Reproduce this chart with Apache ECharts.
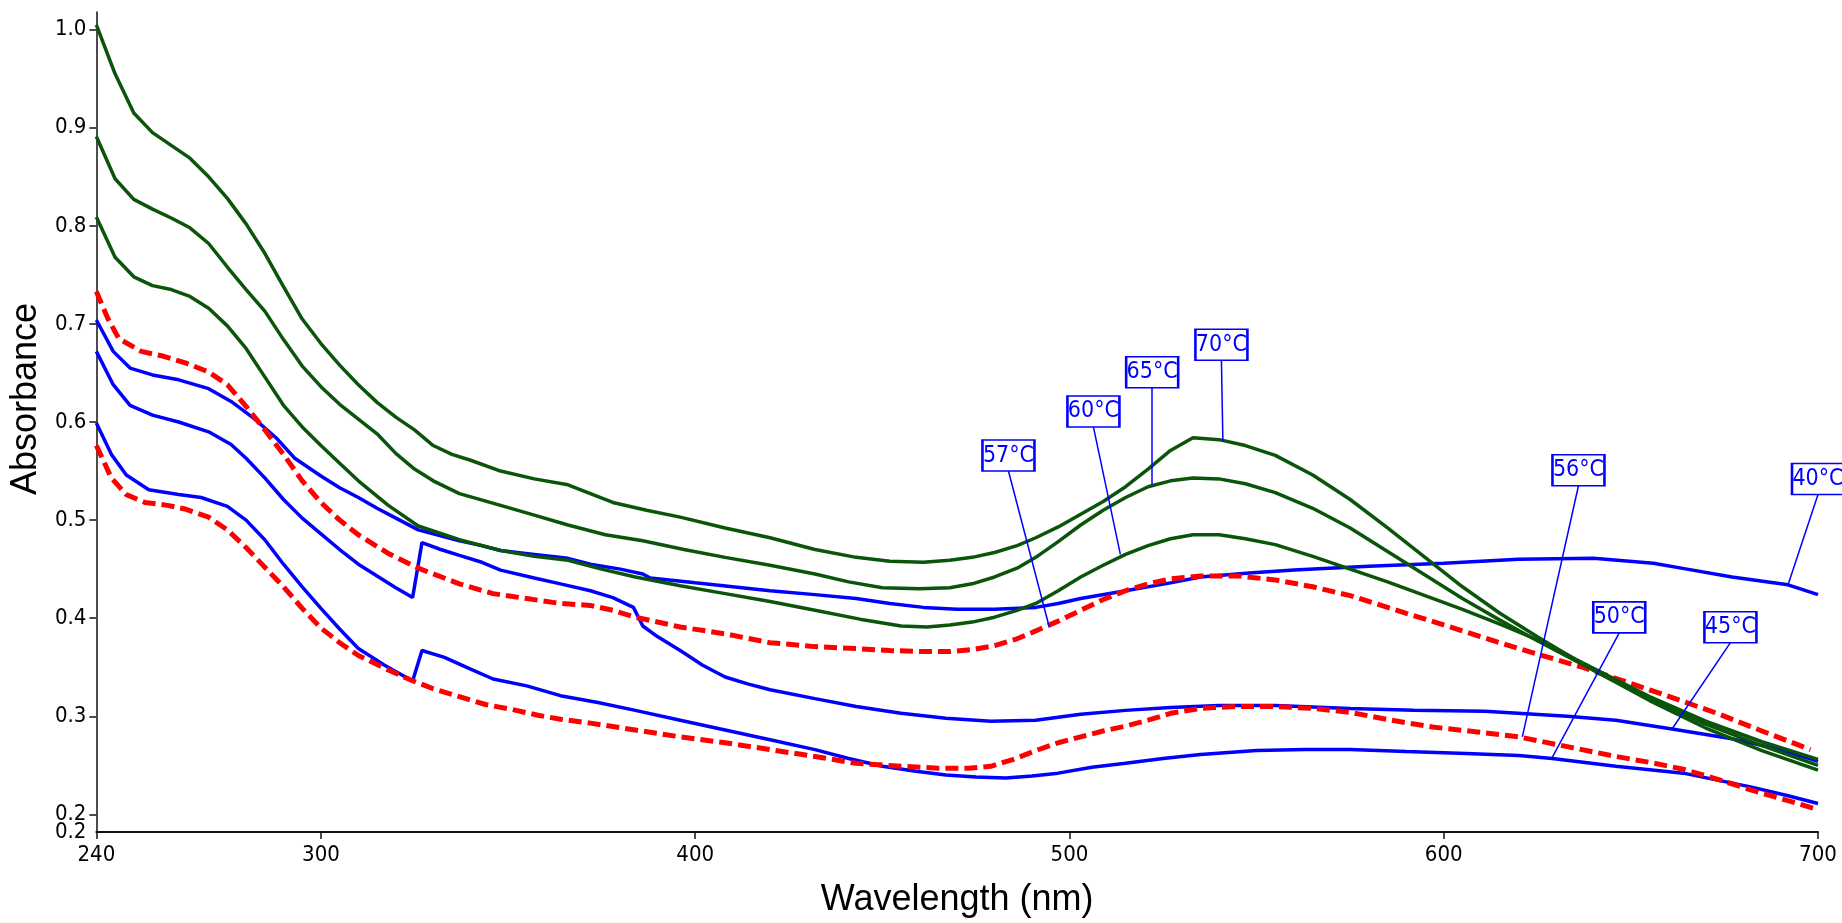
<!DOCTYPE html>
<html>
<head>
<meta charset="utf-8">
<title>Absorbance vs wavelength</title>
<script src="https://cdn.jsdelivr.net/npm/echarts@6/dist/echarts.min.js"></script>
<style>
  html, body { margin: 0; padding: 0; background: #fff; }
  #chart { width: 1842px; height: 923px; }
</style>
</head>
<body>
<div id="chart"></div>
<script>
// spectra: [wavelength nm, absorbance]
const abs40 = [[240,0.704],[244.5,0.672],[249,0.655],[255,0.648],[262,0.643],[270,0.634],[276,0.621],[282,0.604],[288,0.584],[293,0.563],[300,0.545],[305,0.533],[310,0.523],[315,0.512],[319,0.504],[326,0.490],[332,0.484],[337,0.479],[343,0.474],[348,0.469],[357,0.465],[366,0.461],[372,0.455],[380,0.450],[386,0.445],[388,0.441],[400,0.436],[410,0.432],[420,0.428],[432,0.424],[443,0.420],[452,0.415],[461,0.411],[470,0.409],[480,0.409],[491,0.411],[497,0.415],[503,0.420],[515,0.428],[527,0.436],[535,0.442],[548,0.446],[560,0.449],[580,0.453],[600,0.456],[620,0.460],[640,0.461],[656,0.456],[665,0.450],[677,0.442],[692,0.434],[700,0.424]];
const abs45 = [[240,0.672],[244.5,0.638],[249,0.617],[255,0.607],[262,0.600],[270,0.590],[276,0.577],[280,0.563],[285,0.543],[290,0.521],[295,0.502],[300,0.486],[305,0.470],[310,0.455],[315,0.443],[320,0.431],[324.5,0.421],[327,0.477],[332,0.470],[337,0.464],[343,0.457],[348,0.449],[357,0.441],[364,0.435],[372,0.428],[378,0.421],[383.5,0.411],[386,0.392],[390,0.381],[396,0.367],[402,0.352],[408,0.340],[414,0.333],[420,0.327],[432,0.318],[443,0.310],[455,0.303],[467,0.298],[479,0.295],[491,0.296],[503,0.302],[515,0.306],[527,0.309],[540,0.311],[555,0.311],[575,0.308],[592,0.306],[611,0.305],[633,0.300],[646,0.296],[661,0.287],[677,0.277],[690,0.266],[700,0.254]];
const abs50 = [[240,0.599],[244,0.567],[248,0.546],[254,0.531],[262,0.526],[268,0.523],[275,0.514],[280,0.500],[285,0.480],[290,0.455],[295,0.432],[300,0.410],[305,0.389],[310,0.369],[317,0.352],[324.5,0.336],[327,0.367],[333,0.360],[340,0.348],[346,0.338],[355,0.331],[364,0.321],[374,0.314],[384,0.306],[396,0.296],[408,0.286],[420,0.276],[432,0.266],[441,0.257],[450,0.249],[459,0.244],[467,0.240],[475,0.238],[483,0.237],[490,0.239],[497,0.242],[506,0.248],[515,0.252],[525,0.257],[535,0.261],[550,0.265],[563,0.266],[575,0.266],[590,0.264],[606,0.262],[620,0.260],[629,0.257],[646,0.249],[664,0.242],[682,0.228],[692,0.219],[700,0.211]];
const abs56 = [[240,0.576],[244,0.543],[248,0.526],[253,0.518],[259,0.515],[264,0.511],[270,0.503],[275,0.490],[280,0.472],[285,0.452],[290,0.432],[295,0.410],[300,0.390],[305,0.375],[310,0.362],[317,0.349],[324,0.337],[330,0.328],[337,0.320],[344,0.312],[351,0.307],[358,0.301],[364,0.297],[372,0.293],[384,0.286],[396,0.279],[408,0.273],[420,0.266],[432,0.259],[443,0.252],[455,0.249],[465,0.247],[473,0.247],[479,0.249],[485,0.256],[491,0.265],[497,0.273],[503,0.279],[509,0.285],[515,0.290],[521,0.296],[527,0.303],[535,0.308],[545,0.310],[555,0.310],[565,0.308],[575,0.304],[586,0.296],[597,0.289],[609,0.284],[620,0.279],[633,0.269],[646,0.259],[655,0.253],[664,0.246],[673,0.236],[682,0.225],[691,0.215],[699,0.206]];
const abs57 = [[240,0.733],[243,0.706],[246,0.685],[252,0.672],[258,0.667],[264,0.660],[270,0.651],[275,0.638],[280,0.616],[285,0.592],[290,0.567],[295,0.540],[300,0.518],[305,0.500],[310,0.485],[318,0.466],[326,0.451],[337,0.435],[346,0.425],[355,0.420],[364,0.415],[372,0.413],[378,0.408],[384,0.401],[396,0.391],[408,0.384],[420,0.375],[432,0.371],[443,0.369],[452,0.367],[461,0.366],[468,0.366],[474,0.368],[480,0.372],[486,0.379],[491,0.387],[497,0.397],[503,0.408],[509,0.419],[515,0.428],[521,0.435],[527,0.440],[535,0.443],[545,0.443],[555,0.439],[565,0.432],[575,0.423],[590,0.405],[601,0.392],[610,0.381],[620,0.369],[637,0.350],[655,0.327],[673,0.303],[685,0.285],[698,0.266]];
const abs60 = [[240,0.809],[245,0.768],[250,0.748],[255,0.739],[260,0.735],[265,0.728],[270,0.716],[275,0.698],[280,0.675],[285,0.646],[290,0.617],[295,0.595],[300,0.576],[305,0.558],[310,0.540],[318,0.515],[326,0.494],[337,0.480],[348,0.469],[357,0.463],[366,0.459],[375,0.450],[384,0.442],[396,0.433],[408,0.425],[420,0.417],[432,0.408],[444,0.399],[455,0.392],[462,0.391],[468,0.393],[474,0.396],[480,0.401],[486,0.408],[491,0.415],[497,0.428],[503,0.442],[509,0.454],[515,0.465],[521,0.474],[527,0.481],[533,0.485],[540,0.485],[547,0.481],[555,0.475],[565,0.463],[575,0.450],[585,0.437],[595,0.423],[605,0.409],[615,0.394],[625,0.378],[640,0.349],[655,0.320],[670,0.295],[685,0.274],[700,0.256]];
const abs65 = [[240,0.891],[245,0.848],[250,0.827],[255,0.817],[260,0.808],[265,0.798],[270,0.782],[275,0.758],[280,0.735],[285,0.713],[290,0.684],[295,0.657],[300,0.636],[305,0.618],[310,0.603],[315,0.588],[320,0.568],[325,0.552],[330,0.540],[337,0.527],[348,0.515],[357,0.505],[366,0.495],[376,0.485],[386,0.479],[397,0.470],[408,0.462],[420,0.454],[432,0.445],[441,0.437],[450,0.431],[460,0.430],[468,0.431],[474,0.435],[480,0.442],[486,0.451],[491,0.462],[497,0.478],[503,0.495],[509,0.510],[515,0.523],[521,0.534],[527,0.540],[533,0.543],[540,0.542],[547,0.537],[555,0.528],[565,0.512],[575,0.492],[585,0.468],[595,0.444],[605,0.420],[615,0.398],[625,0.377],[640,0.347],[655,0.318],[670,0.292],[685,0.270],[700,0.250]];
const abs70 = [[240,1.005],[245,0.955],[250,0.915],[255,0.895],[260,0.882],[265,0.869],[270,0.850],[275,0.828],[280,0.802],[285,0.772],[290,0.738],[295,0.705],[300,0.680],[305,0.658],[310,0.638],[315,0.620],[320,0.605],[325,0.592],[330,0.576],[335,0.567],[340,0.561],[348,0.550],[357,0.542],[366,0.536],[378,0.518],[387,0.510],[396,0.503],[408,0.492],[420,0.482],[432,0.470],[443,0.462],[452,0.458],[461,0.457],[468,0.459],[474,0.462],[480,0.467],[486,0.474],[491,0.482],[497,0.493],[503,0.506],[509,0.519],[515,0.534],[521,0.552],[527,0.571],[533,0.584],[540,0.582],[547,0.576],[555,0.566],[565,0.546],[575,0.521],[585,0.492],[595,0.462],[605,0.432],[615,0.405],[625,0.381],[640,0.347],[655,0.316],[670,0.288],[685,0.265],[700,0.245]];

// axis range and the extra label drawn at the very bottom of the y axis
const yMin = 0.182, yMax = 1.018;
const yBottomLabel = [0.182];

// callouts: label, point on the curve, where the box sits (bottom centre)
const calloutText = ['40°C', '45°C', '50°C', '56°C', '57°C', '60°C', '65°C', '70°C'];
const calloutTarget = [[692, 0.434], [661, 0.287], [629, 0.258], [621, 0.279], [494.6, 0.391], [513.6, 0.465], [522, 0.536], [541, 0.580]];
const calloutBoxAt = [[700, 0.526], [676.6, 0.375], [646.9, 0.385], [636, 0.535], [483.7, 0.550], [506.4, 0.595], [522.1, 0.635], [540.6, 0.663]];

const narrowFont = "'Liberation Sans Narrow', 'DejaVu Sans Condensed', sans-serif";
const BLUE = '#0000ff', RED = '#ff0000', GREEN = '#0b550b';

const chart = echarts.init(document.getElementById('chart'));

function spectrum(idx, data, color, dashed, z) {
    return {
        name: calloutText[idx],
        type: 'line',
        yAxisIndex: 0,
        data: data,
        showSymbol: false,
        symbol: 'none',
        z: z,
        lineStyle: { color: color, width: dashed ? 5 : 3.5, type: dashed ? [13, 6] : 'solid' },
        itemStyle: { color: color },
        markLine: {
            silent: true,
            symbol: ['none', 'none'],
            label: { show: false },
            lineStyle: { color: BLUE, width: 1.5, type: 'solid' },
            data: [[{ coord: calloutBoxAt[idx] }, { coord: calloutTarget[idx] }]]
        },
        markPoint: {
            silent: true,
            symbol: 'rect',
            symbolSize: [52, 31],
            symbolOffset: [0, -15.5],
            itemStyle: { color: '#ffffff', borderColor: BLUE, borderWidth: 2 },
            label: {
                show: true,
                position: 'inside',
                formatter: calloutText[idx],
                color: BLUE,
                fontSize: 23,
                fontFamily: narrowFont
            },
            data: [{ coord: calloutBoxAt[idx] }]
        }
    };
}

const tickFont = { fontSize: 22, color: '#000', fontFamily: narrowFont };

const option = {
    animation: false,
    backgroundColor: '#ffffff',
    grid: { left: 96, right: 24, top: 12, bottom: 87 },
    xAxis: {
        type: 'value',
        min: 240,
        max: 700,
        splitNumber: 5,
        name: 'Wavelength (nm)',
        nameLocation: 'middle',
        nameGap: 50,
        nameTextStyle: { fontSize: 36, color: '#000', fontFamily: "'Liberation Sans', Arial, sans-serif" },
        axisLine: { onZero: false, lineStyle: { color: '#111', width: 2 } },
        axisTick: { length: 7, lineStyle: { color: '#111', width: 1.5 } },
        axisLabel: Object.assign({ showMinLabel: true, margin: 12 }, tickFont),
        splitLine: { show: false }
    },
    yAxis: [
        {
            type: 'value',
            min: yMin,
            max: yMax,
            splitNumber: 8,
            name: 'Absorbance',
            nameLocation: 'middle',
            nameRotate: 90,
            nameGap: 41,
            nameTextStyle: { fontSize: 36, color: '#000', fontFamily: "'Liberation Sans', Arial, sans-serif", padding: [0, 0, 0, 46] },
            axisLine: { onZero: false, lineStyle: { color: '#111', width: 1.5 } },
            axisTick: { length: 7, lineStyle: { color: '#111', width: 1.5 } },
            axisLabel: Object.assign({
                showMinLabel: false,
                showMaxLabel: false,
                margin: 10,
                formatter: function (v) { return v.toFixed(1); }
            }, tickFont),
            splitLine: { show: false }
        },
        {
            // only carries the rounded label of the axis minimum
            type: 'value',
            position: 'left',
            min: yMin,
            max: yMax,
            axisLine: { show: false },
            axisTick: { show: false },
            axisLabel: Object.assign({
                customValues: yBottomLabel,
                margin: 10,
                formatter: function (v) { return v.toFixed(1); }
            }, tickFont),
            splitLine: { show: false }
        }
    ],
    series: [
        spectrum(0, abs40, BLUE, false, 2),
        spectrum(1, abs45, BLUE, false, 2),
        spectrum(2, abs50, BLUE, false, 2),
        spectrum(3, abs56, RED, true, 3),
        spectrum(4, abs57, RED, true, 3),
        spectrum(5, abs60, GREEN, false, 4),
        spectrum(6, abs65, GREEN, false, 4),
        spectrum(7, abs70, GREEN, false, 4)
    ]
};

chart.setOption(option);
</script>
</body>
</html>
